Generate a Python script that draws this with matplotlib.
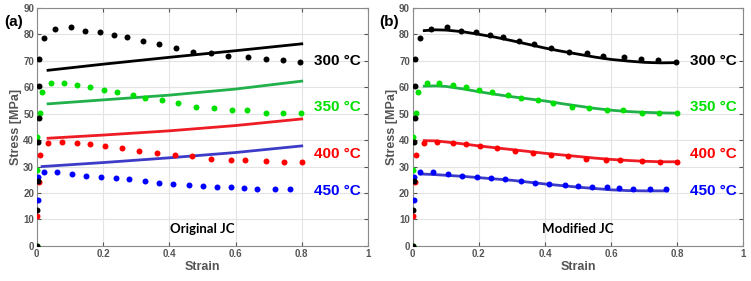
import numpy as np
import matplotlib.pyplot as plt

# experimental flow stress (same points in both panels)
strain_300 = [0.0, 0.0, 0.003, 0.003, 0.008, 0.006, 0.007, 0.021, 0.055, 0.103, 0.147, 0.19, 0.233, 0.273,
              0.321, 0.368, 0.419, 0.473, 0.526, 0.576, 0.638, 0.691, 0.743, 0.795]
stress_300 = [0.0, 13.4, 24.6, 39.1, 48.3, 60.3, 70.7, 78.5, 82.1, 82.7, 81.4, 80.8, 79.8, 78.8,
              77.5, 76.3, 74.8, 73.5, 73.0, 71.9, 71.4, 70.6, 70.1, 69.6]

strain_350 = [0.0, 0.001, 0.001, 0.009, 0.016, 0.043, 0.081, 0.122, 0.162, 0.202, 0.241, 0.289, 0.326,
              0.379, 0.425, 0.481, 0.534, 0.588, 0.636, 0.692, 0.744, 0.798]
stress_350 = [0.0, 28.7, 41.1, 50.2, 58.0, 61.5, 61.6, 60.9, 60.0, 58.9, 58.2, 57.0, 55.9,
              55.2, 54.1, 52.7, 52.2, 51.4, 51.2, 50.4, 50.3, 50.3]

strain_400 = [0.001, 0.006, 0.009, 0.034, 0.075, 0.122, 0.16, 0.205, 0.256, 0.308, 0.363, 0.417, 0.469,
              0.525, 0.585, 0.628, 0.692, 0.747, 0.8]
stress_400 = [11.2, 24.0, 34.4, 38.8, 39.4, 38.8, 38.5, 37.6, 36.9, 35.8, 35.2, 34.4, 33.8,
              33.0, 32.5, 32.5, 32.0, 31.8, 31.8]

strain_450 = [0.004, 0.004, 0.023, 0.061, 0.106, 0.150, 0.195, 0.238, 0.278, 0.327, 0.370, 0.412, 0.46,
              0.501, 0.543, 0.587, 0.625, 0.666, 0.718, 0.766]
stress_450 = [17.3, 26.2, 28.0, 28.0, 27.2, 26.6, 26.1, 25.6, 25.2, 24.5, 23.8, 23.3, 23.1,
              22.8, 22.4, 22.2, 21.8, 21.6, 21.6, 21.6]

# original JC model
ojc_strain = [0.034, 0.2, 0.4, 0.6, 0.8]
ojc_300 = [66.4, 68.7, 71.3, 73.8, 76.4]
ojc_350 = [53.7, 55.2, 57.0, 59.3, 62.3]
ojc_400 = [40.7, 41.9, 43.5, 45.5, 48.0]
ojc_450_strain = [0.016, 0.2, 0.4, 0.6, 0.8]
ojc_450 = [30.0, 31.5, 33.3, 35.3, 37.8]

# modified JC model
mjc_strain = [0.035, 0.07, 0.1, 0.15, 0.2, 0.25, 0.3, 0.35, 0.4, 0.45, 0.5, 0.55, 0.6, 0.65, 0.7, 0.75, 0.8]
mjc_300 = [81.4, 81.7, 81.6, 81.0, 80.0, 78.9, 77.6, 76.2, 74.8, 73.6, 72.5, 71.4, 70.5, 69.9, 69.4, 69.2, 69.3]
mjc_350 = [60.4, 60.5, 60.3, 59.4, 58.3, 57.3, 56.4, 55.6, 54.8, 53.8, 52.9, 52.0, 51.3, 50.8, 50.5, 50.3, 50.2]
mjc_400 = [39.8, 39.7, 39.3, 38.6, 37.8, 37.1, 36.4, 35.7, 35.0, 34.4, 33.8, 33.2, 32.7, 32.3, 32.0, 31.8, 31.8]
mjc_450_strain = [0.022, 0.06, 0.1, 0.15, 0.2, 0.25, 0.3, 0.35, 0.4, 0.45, 0.5, 0.55, 0.6, 0.65, 0.7, 0.77]
mjc_450 = [27.2, 27.0, 26.7, 26.3, 25.8, 25.3, 24.8, 24.1, 23.4, 22.8, 22.2, 21.7, 21.2, 20.9, 20.8, 20.8]

temps = ['300 °C', '350 °C', '400 °C', '450 °C']
label_y = [70, 52.5, 34.8, 20.8]
dot_colors = ['black', '#00e000', '#ff0000', '#0000ff']
line_colors = ['black', '#22b04a', '#ee1c24', '#3c3cc8']

exp_x = [strain_300, strain_350, strain_400, strain_450]
exp_y = [stress_300, stress_350, stress_400, stress_450]

fig = plt.figure(figsize=(7.51, 2.81), dpi=100)
ax1 = fig.add_axes([0.049, 0.125, 0.441, 0.847])
ax2 = fig.add_axes([0.5495, 0.125, 0.4405, 0.847])

models = [
    ([ojc_strain, ojc_strain, ojc_strain, ojc_450_strain], [ojc_300, ojc_350, ojc_400, ojc_450], 'Original JC', '(a)', 0.006),
    ([mjc_strain, mjc_strain, mjc_strain, mjc_450_strain], [mjc_300, mjc_350, mjc_400, mjc_450], 'Modified JC', '(b)', 0.505),
]

gray = '#555555'
for ax, (mx, my, name, tag, tx) in zip([ax1, ax2], models):
    for i in range(4):
        ax.plot(mx[i], my[i], color=line_colors[i], lw=2.0, zorder=2, solid_joinstyle='round')
    for i in [3, 2, 1, 0]:
        ax.plot(exp_x[i], exp_y[i], 'o', color=dot_colors[i], ms=4.3, mec='none', zorder=3)
    for i in range(4):
        ax.text(0.837, label_y[i], temps[i], color=dot_colors[i],
                fontsize=11, fontweight='bold', family='Liberation Sans', va='center', ha='left')
    ax.text(0.5, 6.3, name, fontsize=9.5, fontweight='bold', family='Lato', ha='center', va='center')
    fig.text(tx, 0.922, tag, fontsize=11, fontweight='bold', family='Liberation Sans', va='center')

    ax.set_xlim(0, 1)
    ax.set_ylim(0, 90)
    ax.set_xticks([0, 0.2, 0.4, 0.6, 0.8, 1])
    ax.set_xticklabels(['0', '0.2', '0.4', '0.6', '0.8', '1'])
    ax.set_yticks(range(0, 91, 10))
    ax.grid(True, color='#e3e3e3', lw=0.8)
    ax.set_axisbelow(True)
    ax.tick_params(direction='in', length=3, top=True, right=True, colors=gray,
                   labelsize=7, pad=2)
    for lab in ax.get_xticklabels() + ax.get_yticklabels():
        lab.set_fontweight('bold')
        lab.set_family('Liberation Sans')
    for s in ax.spines.values():
        s.set_color('#8a8a8a')
        s.set_linewidth(0.8)
    ax.set_xlabel('Strain', fontsize=9, fontweight='bold', color=gray, family='Liberation Sans', labelpad=2)
    ax.set_ylabel('Stress [MPa]', fontsize=9, fontweight='bold', color=gray, family='Liberation Sans', labelpad=1)

plt.savefig('out.png', dpi=100)
